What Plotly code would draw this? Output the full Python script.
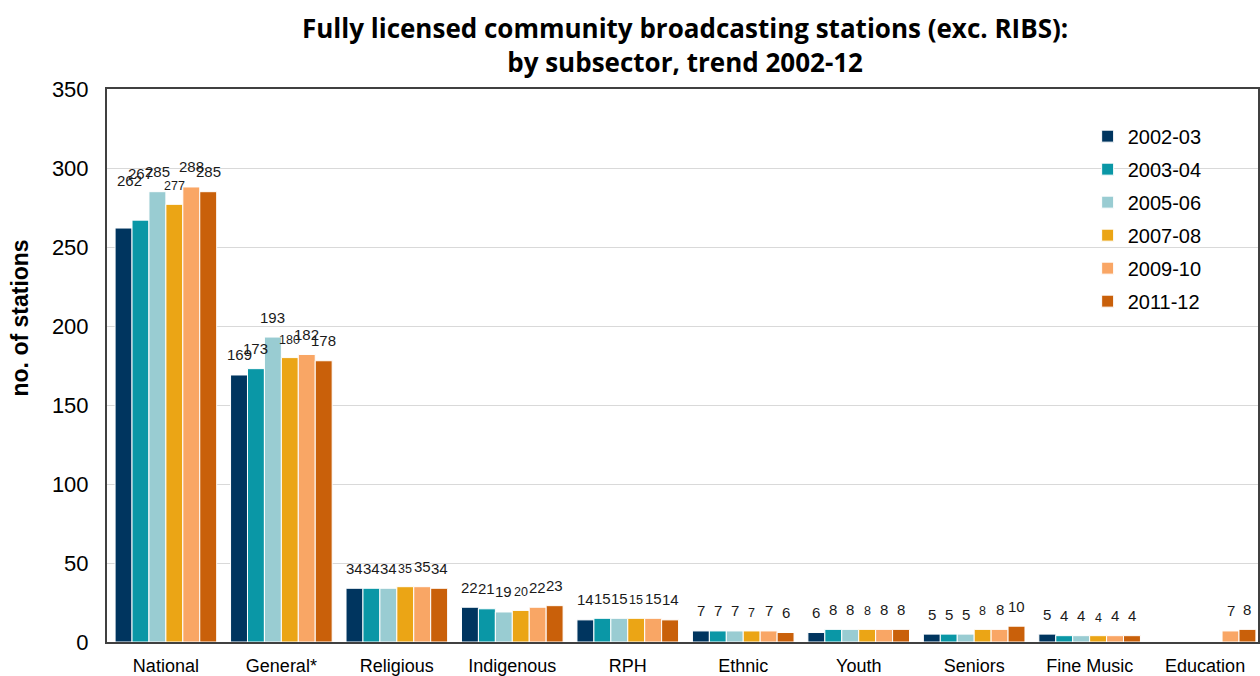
import plotly.graph_objects as go

categories = ["National", "General*", "Religious", "Indigenous", "RPH",
              "Ethnic", "Youth", "Seniors", "Fine Music", "Education"]
years = ["2002-03", "2003-04", "2005-06", "2007-08", "2009-10", "2011-12"]

s_2002_03 = [262, 169, 34, 22, 14, 7, 6, 5, 5, None]
s_2003_04 = [267, 173, 34, 21, 15, 7, 8, 5, 4, None]
s_2005_06 = [285, 193, 34, 19, 15, 7, 8, 5, 4, None]
s_2007_08 = [277, 180, 35, 20, 15, 7, 8, 8, 4, None]
s_2009_10 = [288, 182, 35, 22, 15, 7, 8, 8, 4, 7]
s_2011_12 = [285, 178, 34, 23, 14, 6, 8, 10, 4, 8]

series = [s_2002_03, s_2003_04, s_2005_06, s_2007_08, s_2009_10, s_2011_12]
colors = ["#00355F", "#0A97A6", "#99CCD2", "#EBA515", "#F9A665", "#C9600A"]
label_sizes = [15, 15, 15, 12.5, 15, 15]

BARGAP = 0.12
n_series = len(series)
slot = (1 - BARGAP) / n_series

# labels lifted further above crowded bars
extra_lift = {("National", "2002-03"): 28, ("National", "2003-04"): 27}
label_nudge_x = {("National", "2002-03"): 0.05}

fig = go.Figure()
for i, (name, vals, col) in enumerate(zip(years, series, colors)):
    fig.add_trace(go.Bar(
        name=name, x=categories, y=vals, legendgroup=name,
        marker=dict(color=col, line=dict(color="white", width=1)),
    ))

# value labels above each bar
for i, (name, vals, ls) in enumerate(zip(years, series, label_sizes)):
    for j, (cat, v) in enumerate(zip(categories, vals)):
        if v is None:
            continue
        key = (cat, name)
        fig.add_annotation(
            x=j + (i - (n_series - 1) / 2) * slot + label_nudge_x.get(key, 0),
            y=v, xref="x", yref="y",
            text=str(v), showarrow=False,
            yanchor="middle", yshift=(18 if ls < 14 else 20) + extra_lift.get(key, 0),
            font=dict(family="Arial", size=ls, color="#1a1a1a"),
        )

# chart title
fig.add_annotation(
    text="<b>Fully licensed community broadcasting stations (exc. RIBS):<br>by subsector, trend 2002-12</b>",
    xref="paper", yref="paper", x=0.502, y=1, yanchor="top", yshift=81,
    showarrow=False, align="center",
    font=dict(family="Open Sans", size=26, color="black"),
)

# y-axis title
fig.add_annotation(
    text="<b>no. of stations</b>", textangle=-90,
    xref="paper", yref="paper", x=0, xshift=-87, xanchor="center",
    y=0.585, yanchor="middle", showarrow=False,
    font=dict(family="Arial", size=23, color="black"),
)

fig.update_layout(
    width=1260, height=676,
    paper_bgcolor="white", plot_bgcolor="white",
    barmode="group", bargap=BARGAP, bargroupgap=0,
    margin=dict(l=107, r=0, t=89, b=33),
    showlegend=True,
    legend=dict(
        x=0.852, y=0.95, xanchor="left", yanchor="top",
        font=dict(family="Arial", size=20, color="black"),
        itemwidth=30, tracegroupgap=4, bgcolor="rgba(0,0,0,0)",
    ),
    font=dict(family="Arial", color="black"),
)

fig.update_xaxes(
    range=[-0.51, 9.458],
    showline=True, linecolor="#404040", linewidth=2, mirror=True,
    tickfont=dict(family="Arial", size=18, color="black"),
    ticks="", showgrid=False, ticklabelstandoff=6,
)
fig.update_yaxes(
    range=[0, 350], dtick=50,
    showline=True, linecolor="#404040", linewidth=2, mirror=True,
    showgrid=True, gridcolor="#D9D9D9", gridwidth=1,
    tickfont=dict(family="Arial", size=22, color="black"),
    ticks="", ticklabelstandoff=12,
)

fig.write_html("out.html")
